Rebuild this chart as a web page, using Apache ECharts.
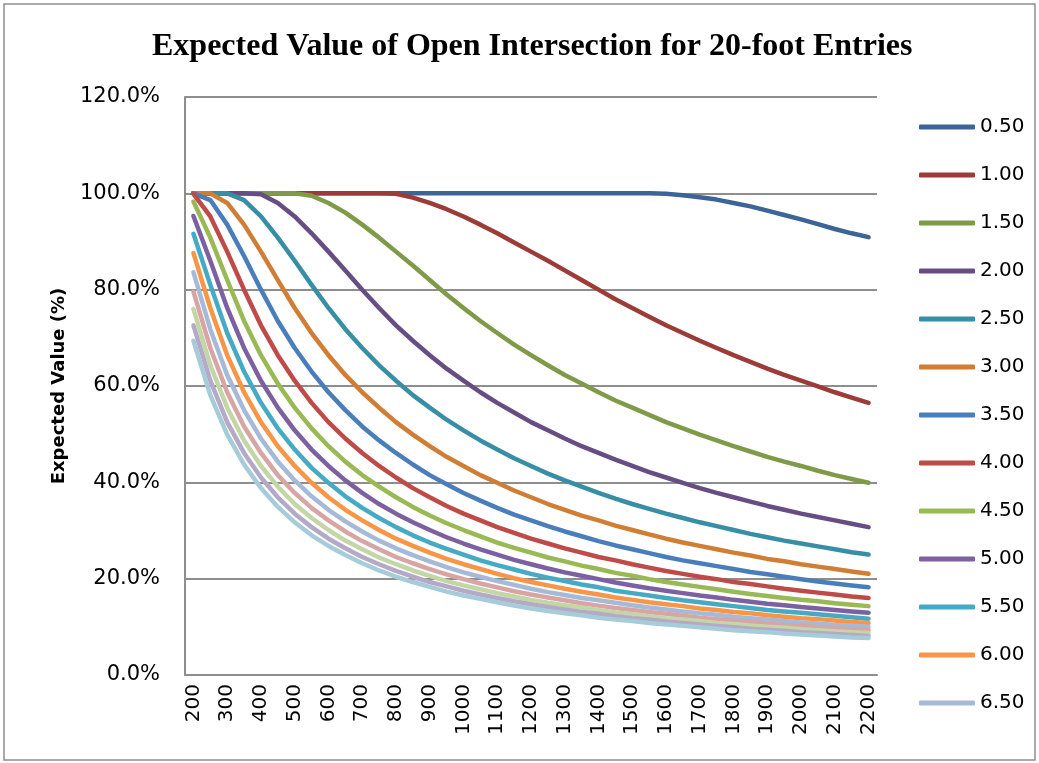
<!DOCTYPE html>
<html>
<head>
<meta charset="utf-8">
<script src="https://cdn.jsdelivr.net/npm/echarts@6/dist/echarts.min.js"></script>
<style>
  html, body { margin: 0; padding: 0; background: #fff; }
  #chart { width: 1039px; height: 763px; }
</style>
</head>
<body>
<div id="chart"></div>
<script>
// x categories (distance), labels shown every other one
const xCats = ['200', '250', '300', '350', '400', '450', '500', '550', '600', '650', '700', '750', '800', '850', '900', '950', '1000', '1050', '1100', '1150', '1200', '1250', '1300', '1350', '1400', '1450', '1500', '1550', '1600', '1650', '1700', '1750', '1800', '1850', '1900', '1950', '2000', '2050', '2100', '2150', '2200']

const seriesNames = ['0.50', '1.00', '1.50', '2.00', '2.50', '3.00', '3.50', '4.00', '4.50', '5.00', '5.50', '6.00', '6.50', '7.00', '7.50', '8.00', '8.50']
// only the first 13 fit in the legend
const legendNames = ['0.50', '1.00', '1.50', '2.00', '2.50', '3.00', '3.50', '4.00', '4.50', '5.00', '5.50', '6.00', '6.50']

const colors = ['#3C6496', '#9B3C39', '#7F9A48', '#664E84', '#378EA5', '#D07D35', '#4A7EBB', '#BE4B48', '#98B954', '#7D60A0', '#46AAC5', '#F79646', '#A5B9D8', '#D9A5A4', '#C3D6A5', '#B4A9C7', '#A5CCD8']

// expected value (%)
const s050 = [100, 100, 100, 100, 100, 100, 100, 100, 100, 100, 100, 100, 100, 100, 100, 100, 100, 100, 100, 100, 100, 100, 100, 100, 100, 100, 100, 100, 99.9, 99.6, 99.2, 98.7, 98.0, 97.3, 96.4, 95.5, 94.6, 93.6, 92.6, 91.7, 90.9]
const s100 = [100, 100, 100, 100, 100, 100, 100, 100, 100, 100, 100, 100, 99.9, 99.1, 98.0, 96.7, 95.2, 93.5, 91.7, 89.8, 87.9, 86.0, 84.0, 82.0, 80.0, 78.0, 76.2, 74.4, 72.6, 71.0, 69.4, 67.9, 66.4, 65.0, 63.6, 62.3, 61.1, 59.9, 58.7, 57.6, 56.5]
const s150 = [100, 100, 100, 100, 100, 100, 100, 99.5, 98.0, 96.0, 93.5, 90.8, 87.9, 85.0, 82.0, 79.0, 76.2, 73.5, 71.0, 68.6, 66.4, 64.3, 62.3, 60.5, 58.7, 57.0, 55.5, 54.0, 52.5, 51.2, 49.9, 48.7, 47.5, 46.4, 45.3, 44.3, 43.4, 42.4, 41.5, 40.7, 39.9]
const s200 = [100, 100, 100, 100, 99.8, 98.0, 95.2, 91.7, 87.9, 84.0, 80.0, 76.2, 72.6, 69.4, 66.4, 63.6, 61.1, 58.7, 56.5, 54.5, 52.5, 50.8, 49.1, 47.5, 46.1, 44.7, 43.4, 42.1, 41.0, 39.9, 38.8, 37.8, 36.9, 36.0, 35.1, 34.3, 33.5, 32.8, 32.1, 31.4, 30.7]
const s250 = [100, 100, 100, 98.6, 95.2, 90.8, 86.0, 81.0, 76.2, 71.8, 67.9, 64.3, 61.1, 58.1, 55.5, 53.0, 50.8, 48.7, 46.8, 45.0, 43.4, 41.8, 40.4, 39.1, 37.8, 36.6, 35.5, 34.5, 33.5, 32.6, 31.7, 30.9, 30.1, 29.3, 28.6, 27.9, 27.3, 26.7, 26.1, 25.5, 25.0]
const s300 = [100, 100, 98.0, 93.5, 87.9, 82.0, 76.2, 71.0, 66.4, 62.3, 58.7, 55.5, 52.5, 49.9, 47.5, 45.3, 43.4, 41.5, 39.9, 38.3, 36.9, 35.5, 34.3, 33.1, 32.1, 31.0, 30.1, 29.2, 28.3, 27.5, 26.8, 26.1, 25.4, 24.8, 24.1, 23.6, 23.0, 22.5, 22.0, 21.5, 21.0]
const s350 = [100, 98.6, 93.5, 87.0, 80.0, 73.5, 67.9, 63.0, 58.7, 55.0, 51.6, 48.7, 46.1, 43.7, 41.5, 39.6, 37.8, 36.2, 34.7, 33.3, 32.1, 30.9, 29.8, 28.8, 27.8, 26.9, 26.1, 25.3, 24.5, 23.8, 23.2, 22.6, 22.0, 21.4, 20.9, 20.4, 19.9, 19.4, 19.0, 18.6, 18.2]
const s400 = [99.9, 95.2, 87.9, 80.0, 72.6, 66.4, 61.1, 56.5, 52.5, 49.1, 46.1, 43.4, 41.0, 38.8, 36.9, 35.1, 33.5, 32.1, 30.7, 29.5, 28.3, 27.3, 26.3, 25.4, 24.5, 23.8, 23.0, 22.3, 21.6, 21.0, 20.4, 19.9, 19.3, 18.9, 18.4, 17.9, 17.5, 17.1, 16.7, 16.3, 16.0]
const s450 = [98.3, 90.8, 82.0, 73.5, 66.4, 60.5, 55.5, 51.2, 47.5, 44.3, 41.5, 39.1, 36.9, 34.9, 33.1, 31.5, 30.1, 28.8, 27.5, 26.4, 25.4, 24.4, 23.6, 22.7, 22.0, 21.2, 20.6, 19.9, 19.3, 18.8, 18.3, 17.8, 17.3, 16.8, 16.4, 16.0, 15.6, 15.3, 14.9, 14.6, 14.3]
const s500 = [95.3, 86.0, 76.2, 67.9, 61.1, 55.5, 50.8, 46.8, 43.4, 40.4, 37.8, 35.5, 33.5, 31.7, 30.1, 28.6, 27.3, 26.1, 25.0, 23.9, 23.0, 22.1, 21.3, 20.6, 19.9, 19.2, 18.6, 18.0, 17.5, 17.0, 16.5, 16.1, 15.6, 15.2, 14.8, 14.5, 14.1, 13.8, 13.5, 13.2, 12.9]
const s550 = [91.6, 81.0, 71.0, 63.0, 56.5, 51.2, 46.8, 43.0, 39.9, 37.1, 34.7, 32.6, 30.7, 29.0, 27.5, 26.2, 25.0, 23.8, 22.8, 21.9, 21.0, 20.2, 19.5, 18.8, 18.2, 17.5, 17.0, 16.5, 16.0, 15.5, 15.1, 14.7, 14.3, 13.9, 13.5, 13.2, 12.9, 12.6, 12.3, 12.0, 11.7]
const s600 = [87.6, 76.2, 66.4, 58.7, 52.5, 47.5, 43.4, 39.9, 36.9, 34.3, 32.1, 30.1, 28.3, 26.8, 25.4, 24.1, 23.0, 22.0, 21.0, 20.1, 19.3, 18.6, 17.9, 17.3, 16.7, 16.1, 15.6, 15.1, 14.7, 14.3, 13.8, 13.5, 13.1, 12.8, 12.4, 12.1, 11.8, 11.6, 11.3, 11.0, 10.8]
const s650 = [83.6, 71.8, 62.3, 55.0, 49.1, 44.3, 40.4, 37.1, 34.3, 31.9, 29.8, 27.9, 26.3, 24.9, 23.6, 22.4, 21.3, 20.4, 19.5, 18.7, 17.9, 17.2, 16.6, 16.0, 15.5, 15.0, 14.5, 14.0, 13.6, 13.2, 12.8, 12.5, 12.1, 11.8, 11.5, 11.2, 10.9, 10.7, 10.4, 10.2, 10.0]
const s700 = [79.6, 67.9, 58.7, 51.6, 46.1, 41.5, 37.8, 34.7, 32.1, 29.8, 27.8, 26.1, 24.5, 23.2, 22.0, 20.9, 19.9, 19.0, 18.2, 17.4, 16.7, 16.1, 15.5, 14.9, 14.4, 13.9, 13.5, 13.1, 12.7, 12.3, 11.9, 11.6, 11.3, 11.0, 10.7, 10.4, 10.2, 9.9, 9.7, 9.5, 9.3]
const s750 = [76.0, 64.3, 55.5, 48.7, 43.4, 39.1, 35.5, 32.6, 30.1, 27.9, 26.1, 24.4, 23.0, 21.7, 20.6, 19.5, 18.6, 17.8, 17.0, 16.3, 15.6, 15.0, 14.5, 14.0, 13.5, 13.0, 12.6, 12.2, 11.8, 11.5, 11.2, 10.8, 10.6, 10.3, 10.0, 9.8, 9.5, 9.3, 9.1, 8.9, 8.7]
const s800 = [72.6, 61.1, 52.5, 46.1, 41.0, 36.9, 33.5, 30.7, 28.3, 26.3, 24.5, 23.0, 21.6, 20.4, 19.3, 18.4, 17.5, 16.7, 16.0, 15.3, 14.7, 14.1, 13.6, 13.1, 12.7, 12.2, 11.8, 11.5, 11.1, 10.8, 10.5, 10.2, 9.9, 9.6, 9.4, 9.2, 8.9, 8.7, 8.5, 8.3, 8.1]
const s850 = [69.4, 58.1, 49.9, 43.7, 38.8, 34.9, 31.7, 29.0, 26.8, 24.9, 23.2, 21.7, 20.4, 19.3, 18.3, 17.3, 16.5, 15.8, 15.1, 14.4, 13.8, 13.3, 12.8, 12.4, 11.9, 11.5, 11.2, 10.8, 10.5, 10.2, 9.9, 9.6, 9.3, 9.1, 8.9, 8.6, 8.4, 8.2, 8.0, 7.8, 7.7]

const allData = [s050, s100, s150, s200, s250, s300, s350, s400, s450, s500, s550, s600, s650, s700, s750, s800, s850]

const axisGray = '#8E8E8E'
const labelFont = 'DejaVu Sans'

function getSeries () {
  const arr = []
  allData.forEach((values, i) => {
    arr.push({
      name: seriesNames[i],
      type: 'line',
      symbol: 'none',
      smooth: false,
      lineStyle: { width: 4.5, cap: 'round', join: 'round', color: colors[i] },
      itemStyle: { color: colors[i] },
      data: values
    })
  })
  return arr
}

const chart = echarts.init(document.getElementById('chart'), null, { renderer: 'canvas' })
chart.setOption({
  animation: false,
  backgroundColor: '#fff',
  color: colors,
  title: {
    text: 'Expected Value of Open Intersection for 20-foot Entries',
    left: 147,
    top: 26,
    textStyle: {
      fontFamily: 'Liberation Serif',
      fontWeight: 'bold',
      fontSize: 32,
      color: '#000'
    }
  },
  legend: {
    orient: 'vertical',
    left: 914,
    top: 112,
    itemWidth: 56,
    itemHeight: 5,
    itemGap: 28,
    icon: 'roundRect',
    data: legendNames,
    textStyle: {
      fontFamily: labelFont,
      fontSize: 20,
      lineHeight: 20,
      color: '#000'
    }
  },
  grid: {
    left: 185,
    top: 97,
    width: 692,
    height: 578,
    containLabel: false
  },
  xAxis: {
    type: 'category',
    boundaryGap: true,
    data: xCats,
    axisLine: { lineStyle: { color: axisGray, width: 2 } },
    axisTick: { show: false },
    axisLabel: {
      interval: 1,
      rotate: 90,
      margin: 9,
      fontFamily: labelFont,
      fontSize: 20,
      color: '#000'
    }
  },
  yAxis: {
    type: 'value',
    min: 0,
    max: 120,
    interval: 20,
    name: 'Expected Value (%)',
    nameLocation: 'middle',
    nameRotate: 90,
    nameGap: 117,
    nameTextStyle: {
      fontFamily: labelFont,
      fontWeight: 'bold',
      fontSize: 18,
      color: '#000'
    },
    axisLine: { show: true, lineStyle: { color: axisGray, width: 2 } },
    axisTick: { show: false },
    splitLine: { lineStyle: { color: axisGray, width: 2 } },
    axisLabel: {
      margin: 25,
      fontFamily: labelFont,
      fontSize: 21,
      color: '#000',
      formatter: function (value) {
        return value.toFixed(1) + '%'
      }
    }
  },
  graphic: [{
    type: 'rect',
    shape: { x: 4, y: 4, width: 1031, height: 756 },
    style: { fill: 'none', stroke: axisGray, lineWidth: 1.5 },
    silent: true
  }],
  series: getSeries()
})
</script>
</body>
</html>
